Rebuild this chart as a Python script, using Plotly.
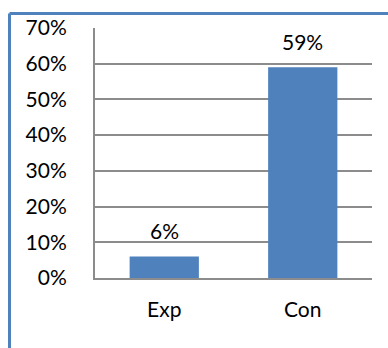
import plotly.graph_objects as go

categories = ["Exp", "Con"]
values = [0.06, 0.59]
tick_vals = [0, 0.1, 0.2, 0.3, 0.4, 0.5, 0.6, 0.7]

BLUE = "#4F81BD"
GRAY = "#8C8C8C"
FONT = "Lato"
FS = 21

fig = go.Figure()
fig.add_trace(go.Bar(x=categories, y=values, marker=dict(color=BLUE, line=dict(width=0)),
                     hoverinfo="skip"))

for c, v in zip(categories, values):
    fig.add_annotation(x=c, y=v, text=f"{round(v*100)}%", showarrow=False,
                       yanchor="middle", yshift=26,
                       font=dict(family=FONT, size=FS, color="#000000"))

W, H = 388, 348
ml, mr, mt, mb = 95, 16, 28, 70
pw, ph = W - ml - mr, H - mt - mb
bx = (9.5 - ml) / pw
by = 1 + (mt - 13.5) / ph
fig.add_shape(type="line", xref="paper", yref="paper", x0=bx, x1=1.2, y0=by, y1=by,
              line=dict(color=BLUE, width=3))
fig.add_shape(type="line", xref="paper", yref="paper", x0=bx, x1=bx, y0=by, y1=-0.4,
              line=dict(color=BLUE, width=3))

fig.update_layout(
    width=W, height=H,
    margin=dict(l=ml, r=mr, t=mt, b=mb),
    plot_bgcolor="white", paper_bgcolor="white",
    bargap=0.5, showlegend=False,
    font=dict(family=FONT, size=FS, color="#000000"),
)
fig.update_yaxes(range=[0, 0.7], tickvals=tick_vals, tickformat=".0%",
                 showgrid=True, gridcolor=GRAY, gridwidth=1.5,
                 showline=True, linecolor=GRAY, linewidth=2,
                 ticks="", ticklabelstandoff=22, zeroline=False,
                 tickfont=dict(family=FONT, size=FS))
fig.update_xaxes(showline=True, linecolor=GRAY, linewidth=2, ticks="",
                 ticklabelstandoff=12, tickfont=dict(family=FONT, size=FS))

fig.write_html("out.html")
